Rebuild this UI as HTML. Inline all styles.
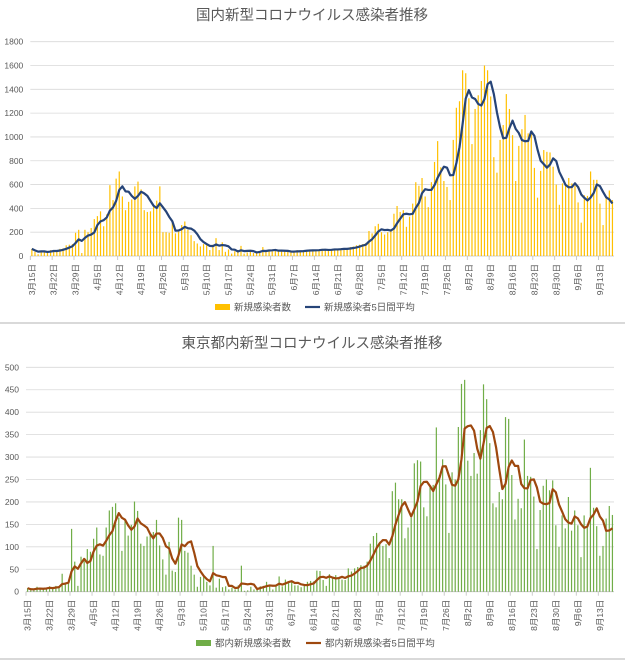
<!DOCTYPE html>
<html><head><meta charset="utf-8">
<style>
html,body{margin:0;padding:0;background:#fff;}
svg{display:block;font-family:"Liberation Sans","Noto Sans CJK JP",sans-serif;}
</style></head>
<body>
<svg id="c" width="625" height="660" viewBox="0 0 625 660"></svg>
<script>
const nationalDaily = [60,35,15,45,40,35,50,40,45,60,65,90,95,100,195,220,25,
220,200,235,310,335,375,250,350,595,470,650,710,500,385,
455,475,585,625,560,385,370,375,420,465,585,200,200,195,
280,190,205,260,290,220,175,125,105,80,100,90,50,95,
150,50,115,35,55,20,40,40,85,20,30,45,25,30,
40,75,40,45,40,55,45,40,40,35,30,40,50,45,
40,45,50,55,50,45,60,55,45,55,60,60,65,60,55,75,80,90,95,100,110,
210,190,250,270,200,180,200,220,355,420,
370,385,245,330,440,620,590,655,500,410,
620,790,965,745,630,580,470,975,1245,1300,
1560,1535,1325,940,1235,1350,1470,1600,1560,1340,
830,700,975,1100,1360,1235,1015,630,925,1065,
1185,1030,1025,740,490,715,890,875,870,750,
600,430,610,590,655,610,590,450,280,510,
505,710,640,640,440,260,485,550,470];
const tokyoDaily = [8,3,5,11,7,7,6,12,8,13,12,40,17,18,140,67,13,
78,68,95,89,118,143,83,80,143,181,189,197,165,91,160,125,149,201,180,107,102,123,130,133,160,103,72,38,111,47,
44,165,160,91,87,58,38,11,33,36,22,14,102,9,29,10,12,5,9,5,14,58,2,3,11,5,9,12,13,22,14,
5,14,34,12,27,20,24,14,14,10,13,22,24,23,47,46,26,13,39,33,37,30,27,26,52,45,52,55,59,58,
67,107,124,131,111,102,106,75,224,243,206,206,119,143,165,286,293,290,188,168,237,238,366,260,295,239,131,266,250,367,463,
472,292,258,309,263,360,462,429,331,197,188,222,206,389,385,260,161,207,186,339,258,256,212,95,182,236,250,226,248,148,100,
170,141,211,136,181,148,77,170,149,276,187,146,80,102,163,191,171];
const dateLabels = ["3月15日","3月22日","3月29日","4月5日","4月12日","4月19日","4月26日","5月3日","5月10日","5月17日","5月24日","5月31日","6月7日","6月14日","6月21日","6月28日","7月5日","7月12日","7月19日","7月26日","8月2日","8月9日","8月16日","8月23日","8月30日","9月6日","9月13日"];
const nationalTicks = [0,200,400,600,800,1000,1200,1400,1600,1800];
const tokyoTicks = [0,50,100,150,200,250,300,350,400,450,500];

const NS="http://www.w3.org/2000/svg";
const svg=document.getElementById('c');
function mk(tag,attrs,parent){const e=document.createElementNS(NS,tag);for(const k in attrs)e.setAttribute(k,attrs[k]);(parent||svg).appendChild(e);return e;}
function ma(arr){return arr.map((v,i)=>{const s=arr.slice(Math.max(0,i-4),i+1);return s.reduce((a,b)=>a+b,0)/s.length;});}

function chart(cfg){
  const g=mk('g',{});
  
  
  const n=cfg.data.length, bw=(cfg.x1-cfg.x0)/n;
  const X=i=>cfg.x0+bw*(i+0.5);
  const Y=v=>cfg.y0-(v/cfg.max)*(cfg.y0-cfg.y1);
  const t=mk('text',{x:312,y:cfg.titleY,'text-anchor':'middle','font-size':'14.5',fill:'#595959'},g);
  t.textContent=cfg.title;
  
  
  cfg.ticks.forEach(v=>{
    const l=mk('line',{x1:cfg.x0,x2:cfg.x1,y1:Y(v),y2:Y(v),stroke:v===0?'#bfbfbf':'#d9d9d9','stroke-width':0.8},g);
    
    
    const tx=mk('text',{x:cfg.x0-7,y:Y(v)+3,'text-anchor':'end','font-size':'8.5',fill:'#595959'},g);
    tx.textContent=v;
    
    
  });
  cfg.data.forEach((v,i)=>{
    const r=mk('rect',{x:X(i)-0.6,y:Y(v),width:1.2,height:cfg.y0-Y(v),fill:cfg.barColor},g);
    
    
  });
  const avg=ma(cfg.data);
  const p=mk('polyline',{points:avg.map((v,i)=>X(i).toFixed(2)+','+Y(v).toFixed(2)).join(' '),fill:'none',stroke:cfg.lineColor,'stroke-width':2.2,'stroke-linejoin':'round'},g);
  
  
  dateLabels.forEach((d,k)=>{
    const i=k*7, bx=cfg.x0+bw*i;
    const tk=mk('line',{x1:bx,x2:bx,y1:cfg.y0,y2:cfg.y0+4,stroke:'#bfbfbf','stroke-width':0.8},g);
    
    
    const cx=X(i)+3;
    const tx=mk('text',{x:cx,y:cfg.y0+8,transform:'rotate(-90 '+cx+' '+(cfg.y0+8)+')','text-anchor':'end','font-size':'8.5',fill:'#595959'},g);
    tx.textContent=d;
    
    
  });
  const lg=mk('g',{},g);
  
  
  const ly=cfg.legendY;
  const sq=mk('rect',{x:cfg.legX,y:ly-3,width:15,height:6,fill:cfg.barColor},lg);
  
  
  const l1=mk('text',{x:cfg.legX+19,y:ly+3.5,'font-size':'9.5',fill:'#595959'},lg);
  l1.textContent=cfg.leg1;
  
  
  const lx=cfg.legX+cfg.leg2off;
  const ln=mk('line',{x1:lx,x2:lx+15,y1:ly,y2:ly,stroke:cfg.lineColor,'stroke-width':2.2},lg);
  
  
  const l2=mk('text',{x:lx+19,y:ly+3.5,'font-size':'9.5',fill:'#595959'},lg);
  l2.textContent=cfg.leg2;
  
  
}

chart({name:'national-chart',title:'国内新型コロナウイルス感染者推移',titleY:20,data:nationalDaily,ticks:nationalTicks,max:1800,
  x0:30.3,x1:614,y0:256,y1:41.7,barColor:'#FFC000',lineColor:'#264478',legendY:307,legX:215,leg2off:90,
  leg1:'新規感染者数',leg2:'新規感染者5日間平均'});
chart({name:'tokyo-chart',title:'東京都内新型コロナウイルス感染者推移',titleY:348,data:tokyoDaily,ticks:tokyoTicks,max:500,
  x0:26,x1:614,y0:591.7,y1:367.3,barColor:'#70AD47',lineColor:'#9E480E',legendY:643,legX:196,leg2off:110,
  leg1:'都内新規感染者数',leg2:'都内新規感染者5日間平均'});
const sep=mk('rect',{x:0,y:322,width:625,height:2,fill:'#d9d9d9'});


const sep2=mk('rect',{x:0,y:658,width:625,height:2,fill:'#d9d9d9'});


</script>
</body></html>
